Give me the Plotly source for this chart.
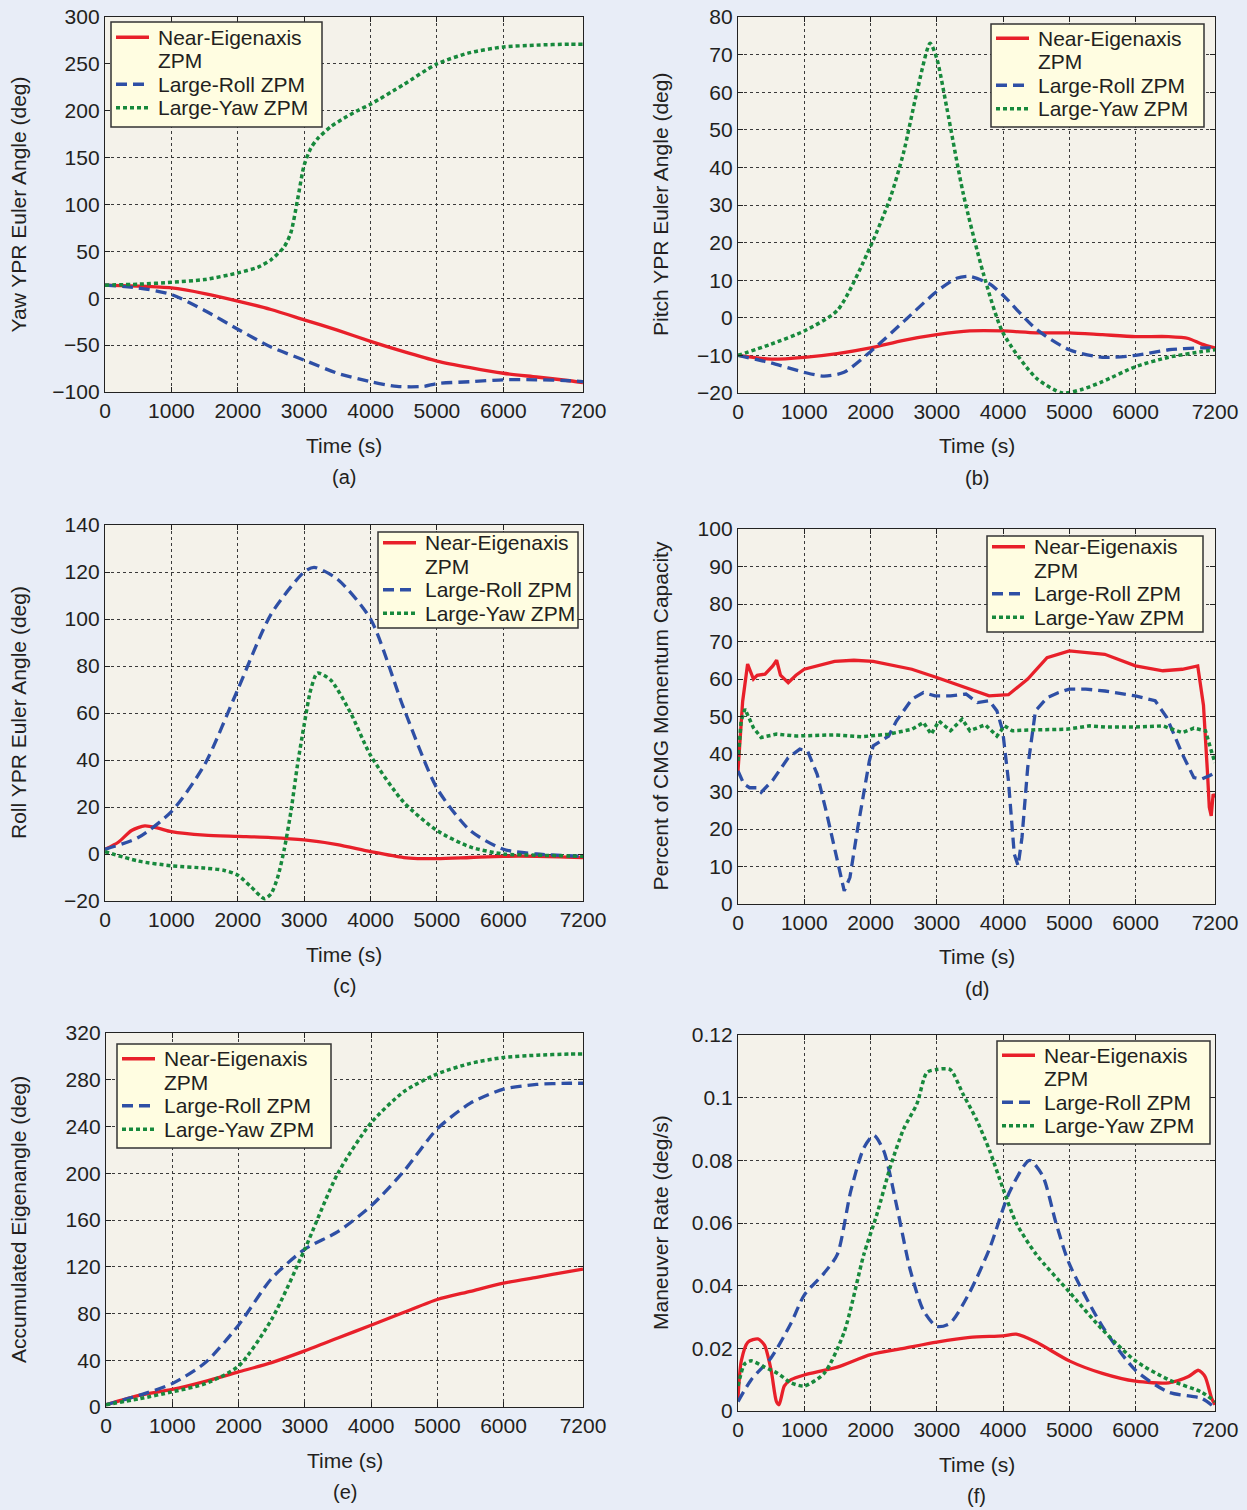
import plotly.graph_objects as go

W, H = 1247, 1510

# ---------------- DATA ----------------
series_names = ["Near-Eigenaxis ZPM", "Large-Roll ZPM", "Large-Yaw ZPM"]
legend_lines = [["Near-Eigenaxis", "ZPM"], ["Large-Roll ZPM"], ["Large-Yaw ZPM"]]
x_tickvals = [0, 1000, 2000, 3000, 4000, 5000, 6000, 7200]
x_ticktext = ["0", "1000", "2000", "3000", "4000", "5000", "6000", "7200"]

# (a) Yaw YPR Euler angle (deg)
a_red_t = [0, 500, 1000, 1500, 2000, 2500, 3000, 3500, 4000, 4500, 5000, 5500, 6000, 6500, 7000, 7200]
a_red_v = [14, 13, 11, 5, -3, -12, -23, -34, -46, -57, -67, -74, -80, -84, -88, -90]
a_blue_t = [0, 500, 1000, 1500, 2000, 2500, 3000, 3500, 4000, 4400, 4800, 5000, 5500, 6000, 6500, 7000, 7200]
a_blue_v = [14, 11, 4, -13, -33, -52, -66, -80, -89, -94, -94, -91, -89, -87, -87, -88, -89]
a_green_t = [0, 500, 1000, 1500, 2000, 2300, 2500, 2700, 2800, 2900, 3000, 3100, 3200, 3400, 3600, 3800, 4000, 4500, 5000, 5500, 6000, 6500, 7000, 7200]
a_green_v = [14, 15, 17, 20, 27, 33, 41, 55, 70, 105, 142, 160, 170, 183, 192, 200, 207, 228, 250, 262, 268, 270, 271, 271]

# (b) Pitch YPR Euler angle (deg)
b_red_t = [0, 500, 1000, 1500, 2000, 2500, 3000, 3500, 4000, 4500, 5000, 5500, 6000, 6500, 6800, 7000, 7200]
b_red_v = [-10, -11, -10.5, -9.5, -8, -6, -4.5, -3.5, -3.5, -4, -4, -4.5, -5, -5, -5.5, -7, -8]
b_blue_t = [0, 500, 1000, 1300, 1600, 2000, 2500, 3000, 3300, 3500, 3800, 4000, 4500, 5000, 5500, 6000, 6500, 7000, 7200]
b_blue_v = [-10, -12, -14.5, -15.5, -14.5, -9, -1, 7, 10.5, 11, 9, 6, -3, -8.5, -10.5, -10, -8.5, -8, -8]
b_green_t = [0, 500, 1000, 1500, 2000, 2300, 2500, 2700, 2900, 3000, 3150, 3400, 3700, 4000, 4500, 4900, 5200, 5500, 6000, 6500, 7000, 7200]
b_green_v = [-10, -7, -3.5, 2, 19, 32, 44, 60, 73, 69, 56, 33, 12, -4, -16, -20, -19, -17, -13, -10.5, -9, -8.5]

# (c) Roll YPR Euler angle (deg)
c_red_t = [0, 200, 400, 600, 800, 1000, 1500, 2000, 2500, 3000, 3500, 4000, 4500, 5000, 5500, 6000, 6500, 7200]
c_red_v = [2, 5, 10, 12, 11, 9.5, 8, 7.5, 7, 6, 4, 1, -1.5, -2, -1.5, -1, -1, -1.5]
c_blue_t = [0, 500, 1000, 1500, 2000, 2500, 3000, 3150, 3500, 4000, 4500, 5000, 5500, 6000, 6500, 7200]
c_blue_v = [2, 7, 18, 38, 70, 102, 120, 122, 117, 100, 62, 28, 10, 2, 0, -1]
c_green_t = [0, 500, 1000, 1500, 1800, 2000, 2200, 2400, 2500, 2600, 2700, 2800, 2900, 3000, 3100, 3200, 3400, 3700, 4000, 4500, 5000, 5500, 6000, 6500, 7200]
c_green_v = [1, -3, -5, -6, -7, -9, -14, -19, -17, -10, 2, 18, 38, 55, 70, 77, 74, 60, 42, 22, 10, 3, 0, -0.5, -1]

# (d) Percent of CMG momentum capacity
d_red_t = [0, 70, 145, 233, 290, 408, 525, 583, 641, 758, 875, 1000, 1458, 1749, 2041, 2624, 3000, 3500, 3790, 4082, 4373, 4665, 5000, 5536, 6000, 6414, 6706, 6939, 7026, 7085, 7114, 7143, 7172, 7200]
d_red_v = [35.5, 54, 64, 60, 61, 61.3, 63.5, 65, 61, 59, 61, 62.6, 64.7, 65, 64.7, 62.6, 60.4, 57.3, 55.5, 55.8, 60, 65.7, 67.5, 66.6, 63.5, 62.2, 62.6, 63.5, 53, 35.5, 25.8, 23.5, 29.3, 28.4]
d_blue_t = [0, 88, 175, 292, 350, 525, 758, 933, 1050, 1195, 1341, 1516, 1603, 1690, 1808, 1983, 2041, 2274, 2391, 2624, 2799, 2974, 3208, 3441, 3616, 3791, 3908, 3995, 4082, 4170, 4228, 4287, 4373, 4490, 4665, 4840, 5000, 5250, 5540, 6000, 6297, 6473, 6706, 6881, 6998, 7114, 7200]
d_blue_v = [35.5, 32, 31, 31, 29.8, 33, 39, 41.3, 40.8, 34.6, 24, 9.8, 3.5, 7.1, 20.4, 38.2, 42.2, 44.8, 48.8, 54.6, 56.4, 55.5, 55.5, 56, 53.7, 54.2, 51.5, 46.2, 32.9, 13.3, 10.2, 17.8, 36.4, 51.5, 55, 56.4, 57.3, 57.3, 56.8, 55.5, 54.2, 49.7, 40, 33.7, 33.3, 34.2, 35]
d_green_t = [0, 47, 105, 233, 350, 583, 875, 1458, 1866, 2274, 2624, 2799, 2916, 3033, 3208, 3383, 3500, 3733, 3908, 4024, 4141, 4373, 4956, 5307, 5540, 6000, 6414, 6706, 6881, 7056, 7143, 7200]
d_green_v = [38.2, 48.8, 52, 47, 44.4, 45.3, 44.8, 45.1, 44.6, 45.3, 46.6, 48.4, 45.3, 48.8, 46.2, 49.3, 46.2, 47.8, 44.8, 47.5, 46.2, 46.4, 46.6, 47.5, 47.2, 47.2, 47.5, 45.7, 46.9, 46.2, 40.9, 37.7]

# (e) Accumulated eigenangle (deg)
e_t = [0, 500, 1000, 1500, 2000, 2500, 3000, 3500, 4000, 4500, 5000, 5500, 6000, 6500, 7000, 7200]
e_red_v = [2, 10, 15, 22, 30, 38, 48, 59, 70, 81, 92, 99, 106, 111, 116, 118]
e_blue_v = [2, 10, 20, 38, 70, 110, 135, 150, 172, 202, 238, 260, 272, 276, 277, 277]
e_green_v = [2, 7, 13, 20, 35, 75, 135, 200, 243, 270, 285, 294, 299, 301, 302, 302]

# (f) Maneuver rate (deg/s)
f_red_t = [0, 50, 150, 300, 400, 500, 580, 620, 700, 800, 1000, 1500, 2000, 2500, 3000, 3500, 4000, 4200, 4500, 5000, 5500, 6000, 6500, 6800, 6950, 7050, 7150, 7200]
f_red_v = [0.004, 0.016, 0.022, 0.023, 0.021, 0.013, 0.003, 0.002, 0.008, 0.010, 0.0115, 0.014, 0.018, 0.020, 0.022, 0.0235, 0.024, 0.0245, 0.022, 0.016, 0.012, 0.0095, 0.009, 0.011, 0.013, 0.011, 0.004, 0.002]
f_blue_t = [0, 200, 500, 800, 1000, 1300, 1500, 1700, 1900, 2050, 2200, 2400, 2600, 2800, 3000, 3200, 3500, 3800, 4100, 4400, 4600, 4800, 5000, 5500, 6000, 6500, 7000, 7200]
f_blue_v = [0.003, 0.01, 0.017, 0.028, 0.037, 0.044, 0.05, 0.07, 0.084, 0.088, 0.083, 0.065, 0.045, 0.032, 0.027, 0.028, 0.038, 0.052, 0.07, 0.08, 0.075, 0.06, 0.047, 0.027, 0.013, 0.006, 0.004, 0.001]
f_green_t = [0, 100, 200, 400, 600, 800, 1000, 1300, 1600, 1900, 2100, 2300, 2500, 2700, 2850, 3000, 3200, 3400, 3600, 3800, 4000, 4200, 4500, 5000, 5500, 6000, 6500, 7000, 7200]
f_green_v = [0.008, 0.015, 0.016, 0.014, 0.012, 0.009, 0.008, 0.012, 0.025, 0.05, 0.063, 0.078, 0.09, 0.098, 0.108, 0.109, 0.109, 0.101, 0.093, 0.083, 0.071, 0.06, 0.05, 0.038, 0.026, 0.016, 0.01, 0.006, 0.003]

# y ticks
a_yticks = [-100, -50, 0, 50, 100, 150, 200, 250, 300]
b_yticks = [-20, -10, 0, 10, 20, 30, 40, 50, 60, 70, 80]
c_yticks = [-20, 0, 20, 40, 60, 80, 100, 120, 140]
d_yticks = [0, 10, 20, 30, 40, 50, 60, 70, 80, 90, 100]
e_yticks = [0, 40, 80, 120, 160, 200, 240, 280, 320]
f_yticks = [0, 0.02, 0.04, 0.06, 0.08, 0.1, 0.12]
f_ytext = ["0", "0.02", "0.04", "0.06", "0.08", "0.1", "0.12"]

y_titles = ["Yaw YPR Euler Angle (deg)", "Pitch YPR Euler Angle (deg)",
            "Roll YPR Euler Angle (deg)", "Percent of CMG Momentum Capacity",
            "Accumulated Eigenangle (deg)", "Maneuver Rate (deg/s)"]
panel_labels = ["(a)", "(b)", "(c)", "(d)", "(e)", "(f)"]

# ---------------- STYLE ----------------
FONT = "Liberation Sans, Arial, Helvetica, sans-serif"
TXT = "#231f20"
RED, BLUE, GREEN = "#e8202a", "#2e4fa5", "#17893c"
PAGE_BG, PLOT_BG, LEG_BG = "#e8edf7", "#f4f2ea", "#fffde1"

# pixel boxes: (left, right, top, bottom)
boxes = [(105, 583, 17, 392), (738, 1215, 17, 393),
         (105, 583, 525, 901), (738, 1215, 529, 904),
         (106, 583, 1033, 1407), (738, 1215, 1035, 1411)]
# legend boxes: (left, top, width, height)
legend_boxes = [(111, 22, 211, 105), (991, 24, 213, 103), (378, 532, 200, 96),
                (987, 536, 216, 96), (117, 1044, 214, 104), (997, 1041, 213, 103)]

def neg(v):
    return f"{v:g}".replace("-", "\u2212")

ydefs = [
    ([-100, 300], a_yticks, [neg(v) for v in a_yticks]),
    ([-20, 80], b_yticks, [neg(v) for v in b_yticks]),
    ([-20, 140], c_yticks, [neg(v) for v in c_yticks]),
    ([0, 100], d_yticks, [neg(v) for v in d_yticks]),
    ([0, 320], e_yticks, [neg(v) for v in e_yticks]),
    ([0, 0.12], f_yticks, f_ytext),
]

data_sets = [
    [(a_red_t, a_red_v), (a_blue_t, a_blue_v), (a_green_t, a_green_v)],
    [(b_red_t, b_red_v), (b_blue_t, b_blue_v), (b_green_t, b_green_v)],
    [(c_red_t, c_red_v), (c_blue_t, c_blue_v), (c_green_t, c_green_v)],
    [(d_red_t, d_red_v), (d_blue_t, d_blue_v), (d_green_t, d_green_v)],
    [(e_t, e_red_v), (e_t, e_blue_v), (e_t, e_green_v)],
    [(f_red_t, f_red_v), (f_blue_t, f_blue_v), (f_green_t, f_green_v)],
]

line_styles = [dict(color=RED, width=3.3, dash="solid"),
               dict(color=BLUE, width=3.3, dash="11px,6px"),
               dict(color=GREEN, width=3.5, dash="4px,3px")]

fig = go.Figure()
layout = dict(width=W, height=H, margin=dict(l=0, r=0, t=0, b=0),
              paper_bgcolor=PAGE_BG, plot_bgcolor=PLOT_BG, showlegend=False,
              font=dict(family=FONT, color=TXT))
annotations = []
shapes = []

def px(x):
    return x / W

def py(y):
    return 1 - y / H

for i in range(6):
    k = "" if i == 0 else str(i + 1)
    L, R, T, B = boxes[i]
    common = dict(showgrid=True, gridcolor="#3a3a3a", griddash="dot", gridwidth=1,
                  showline=True, linecolor="#222", linewidth=1.3, mirror="allticks",
                  ticks="inside", ticklen=5, tickcolor="#222", tickwidth=1.2,
                  tickfont=dict(size=21, color=TXT, family=FONT),
                  zeroline=False, automargin=False, fixedrange=True)
    layout["xaxis" + k] = dict(domain=[px(L), px(R)], range=[0, 7200], anchor="y" + k,
                               tickmode="array", tickvals=x_tickvals, ticktext=x_ticktext, **common)
    rng, tv, tt = ydefs[i]
    layout["yaxis" + k] = dict(domain=[py(B), py(T)], range=rng, anchor="x" + k,
                               tickmode="array", tickvals=tv, ticktext=tt, **common)
    for j, (tt_, vv) in enumerate(data_sets[i]):
        fig.add_trace(go.Scatter(x=tt_, y=vv, mode="lines", name=series_names[j],
                                 line=dict(shape="linear" if i == 3 else "spline", smoothing=0.7, **line_styles[j]),
                                 xaxis="x" + k, yaxis="y" + k, hoverinfo="skip", showlegend=False))
    cx = (L + R) / 2
    annotations.append(dict(text="Time (s)", x=px(cx), y=py(B + 53), xref="paper", yref="paper",
                            showarrow=False, font=dict(size=21, color=TXT, family=FONT),
                            xanchor="center", yanchor="middle"))
    annotations.append(dict(text=panel_labels[i], x=px(cx), y=py(B + 85), xref="paper", yref="paper",
                            showarrow=False, font=dict(size=20, color=TXT, family=FONT),
                            xanchor="center", yanchor="middle"))
    ytx = 18 if i % 2 == 0 else 660
    annotations.append(dict(text=y_titles[i], x=px(ytx), y=py((T + B) / 2), xref="paper", yref="paper",
                            showarrow=False, textangle=-90, font=dict(size=21, color=TXT, family=FONT),
                            xanchor="center", yanchor="middle"))

    # legend box (drawn)
    lx, ly, lw, lh = legend_boxes[i]
    shapes.append(dict(type="rect", xref="paper", yref="paper",
                       x0=px(lx), x1=px(lx + lw), y0=py(ly + lh), y1=py(ly),
                       fillcolor=LEG_BG, line=dict(color="#333", width=1.5), layer="above"))
    step = 23.5
    row0 = ly + (lh - 4 * step) / 2 + step / 2 - 2
    rows = [row0, row0 + step, row0 + 2 * step, row0 + 3 * step]
    entry_rows = [0, 2, 3]
    for j in range(3):
        yrow = rows[entry_rows[j]]
        st = line_styles[j]
        shapes.append(dict(type="line", xref="paper", yref="paper",
                           x0=px(lx + 5), x1=px(lx + 38), y0=py(yrow), y1=py(yrow),
                           line=dict(color=st["color"], width=st["width"], dash=st["dash"]),
                           layer="above"))
        for m, txt in enumerate(legend_lines[j]):
            annotations.append(dict(text=txt, x=px(lx + 45), y=py(rows[entry_rows[j] + m]),
                                    xref="paper", yref="paper", showarrow=False,
                                    font=dict(size=21, color=TXT, family=FONT),
                                    xanchor="left", yanchor="middle"))

layout["annotations"] = annotations
layout["shapes"] = shapes
fig.update_layout(**layout)
fig.write_html("out.html")
